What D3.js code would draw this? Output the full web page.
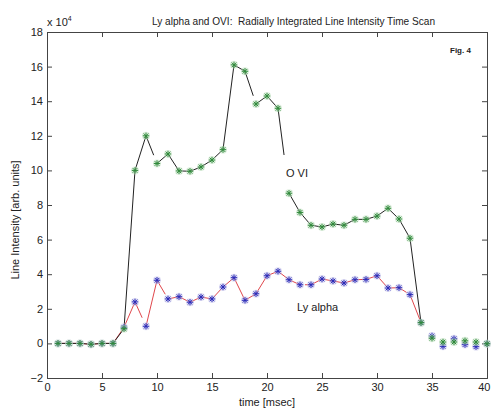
<!DOCTYPE html>
<html>
<head>
<meta charset="utf-8">
<script src="https://cdn.jsdelivr.net/npm/d3@7"></script>
<style>
  html, body { margin: 0; padding: 0; background: #fff; }
  svg { display: block; font-family: "Liberation Sans", Arial, sans-serif; }
</style>
</head>
<body>
<svg id="chart" width="491" height="410"></svg>
<script>
// ---- data (intensity in units of 1e4) ----
const times = d3.range(1, 41);
const oviValues = [0, 0, 0, -0.05, 0, 0, 0.85, 10.0, 12.0, 10.4,
  10.95, 9.97, 9.95, 10.2, 10.6, 11.2, 16.1, 15.73, 13.84, 14.3,
  13.59, 8.68, 7.57, 6.83, 6.73, 6.9, 6.83, 7.17, 7.17, 7.36,
  7.81, 7.19, 6.08, 1.2, 0.3, 0.08, 0.08, 0.15, 0.08, -0.02];
const lyaValues = [0, 0, 0, -0.05, 0, 0, 0.93, 2.4, 0.99, 3.65,
  2.57, 2.7, 2.38, 2.68, 2.57, 3.26, 3.8, 2.49, 2.87, 3.91,
  4.17, 3.68, 3.39, 3.39, 3.72, 3.61, 3.49, 3.68, 3.7, 3.91,
  3.2, 3.22, 2.82, 1.2, 0.43, -0.17, 0.27, -0.07, -0.19, -0.02];
const lineEndTime = 34;            // lines are drawn up to t = 34 only
// partially drawn segments: [start time of segment, from fraction, to fraction]
const oviSegTrims = [[9, 0, 0.7], [18, 0, 0.75], [21, 0, 0.55]];
const lyaSegTrims = [[8, 0, 0.65], [10, 0, 0.75], [23, 0.45, 1], [32, 0, 0.7]];
const xTicks = [0, 5, 10, 15, 20, 25, 30, 35, 40];
const yTicks = [-2, 0, 2, 4, 6, 8, 10, 12, 14, 16, 18];
const titleText = "Ly alpha and OVI:  Radially Integrated Line Intensity Time Scan";
const xLabel = "time [msec]";
const yLabel = "Line Intensity [arb. units]";

// ---- layout ----
const svg = d3.select("#chart");
const L = 47, R = 487, T = 32, B = 378;
const x = d3.scaleLinear().domain([0, 40]).range([L, R]);
const y = d3.scaleLinear().domain([-2, 18]).range([B, T]);
const axisColor = "#444";

// frame + axes
const gx = svg.append("g").attr("transform", `translate(0,${B})`)
  .call(d3.axisBottom(x).tickValues(xTicks).tickSize(-5).tickPadding(5).tickFormat(d3.format("d")));
const gxt = svg.append("g").attr("transform", `translate(0,${T})`)
  .call(d3.axisTop(x).tickValues(xTicks).tickSize(-5).tickFormat(""));
const gy = svg.append("g").attr("transform", `translate(${L},0)`)
  .call(d3.axisLeft(y).tickValues(yTicks).tickSize(-5).tickPadding(4).tickFormat(d3.format("d")));
const gyr = svg.append("g").attr("transform", `translate(${R},0)`)
  .call(d3.axisRight(y).tickValues(yTicks).tickSize(-5).tickFormat(""));
[gx, gxt, gy, gyr].forEach(g => {
  g.selectAll("path.domain").attr("stroke", axisColor);
  g.selectAll(".tick line").attr("stroke", axisColor);
  g.selectAll(".tick text").attr("fill", "#222").attr("font-size", 11)
    .attr("font-family", "Liberation Sans, Arial, sans-serif");
});
gx.selectAll(".tick text").attr("dy", "0.75em");
// keep the last x label inside the picture
gx.selectAll(".tick text").filter(d => d === 40).attr("text-anchor", "end").attr("x", 3);

// ---- lines with segments ----
function drawSeries(values, trims, color) {
  const g = svg.append("g");
  const trimMap = new Map(trims.map(d => [d[0], [d[1], d[2]]]));
  for (let i = 0; i < times.length - 1; i++) {
    const t0 = times[i], t1 = times[i + 1];
    if (t1 > lineEndTime) break;
    const [f0, f1] = trimMap.get(t0) || [0, 1];
    const x0 = x(t0), y0 = y(values[i]), x1 = x(t1), y1 = y(values[i + 1]);
    g.append("line")
      .attr("x1", x0 + (x1 - x0) * f0).attr("y1", y0 + (y1 - y0) * f0)
      .attr("x2", x0 + (x1 - x0) * f1).attr("y2", y0 + (y1 - y0) * f1)
      .attr("stroke", color).attr("stroke-width", 1);
  }
}
drawSeries(lyaValues, lyaSegTrims, "#e0474c");
drawSeries(oviValues, oviSegTrims, "#222");

// ---- asterisk markers ----
function drawMarkers(values, color, halo) {
  const g = svg.append("g");
  const s = 3.2;
  times.forEach((t, i) => {
    const cx = x(t), cy = y(values[i]);
    const m = g.append("g").attr("transform", `translate(${cx},${cy})`);
    m.append("circle").attr("r", 4).attr("fill", halo).attr("opacity", 0.5);
    m.append("path")
      .attr("d", `M${-s},0H${s}M0,${-s}V${s}M${-s * 0.72},${-s * 0.72}L${s * 0.72},${s * 0.72}M${-s * 0.72},${s * 0.72}L${s * 0.72},${-s * 0.72}`)
      .attr("stroke", color).attr("stroke-width", 1).attr("fill", "none");
  });
}
drawMarkers(lyaValues, "#2a2ab8", "#c6c3ea");
drawMarkers(oviValues, "#2f8a3a", "#bfe0bf");

// ---- texts ----
svg.append("text").attr("x", 152).attr("y", 25).attr("font-size", 11)
  .style("white-space", "pre").attr("xml:space", "preserve")
  .attr("fill", "#222").attr("textLength", 283).attr("lengthAdjust", "spacingAndGlyphs")
  .text(titleText);
const ex = svg.append("text").attr("x", 47).attr("y", 26).attr("font-size", 11).attr("fill", "#222");
ex.append("tspan").text("x 10");
ex.append("tspan").attr("dy", -5).attr("font-size", 7).text("4");
svg.append("text").attr("x", 450).attr("y", 53).attr("font-size", 8).attr("font-weight", "bold")
  .attr("fill", "#222").text("Fig. 4");
svg.append("text").attr("x", 286).attr("y", 177).attr("font-size", 11).attr("fill", "#222").text("O VI");
svg.append("text").attr("x", 297).attr("y", 311).attr("font-size", 11).attr("fill", "#222").text("Ly alpha");
svg.append("text").attr("x", (L + R) / 2).attr("y", 406).attr("font-size", 11)
  .attr("text-anchor", "middle").attr("fill", "#222").text(xLabel);
svg.append("text").attr("transform", "translate(19,220) rotate(-90)").attr("font-size", 11)
  .attr("text-anchor", "middle").attr("fill", "#222").text(yLabel);
</script>
</body>
</html>
